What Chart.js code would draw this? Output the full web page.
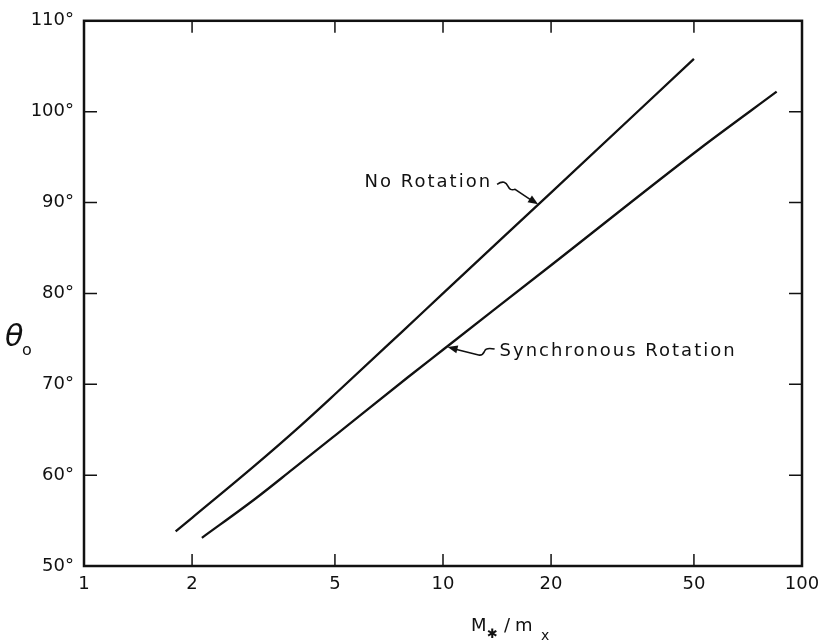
<!DOCTYPE html>
<html>
<head>
<meta charset="utf-8">
<script src="https://cdn.jsdelivr.net/npm/chart.js@4.4.1/dist/chart.umd.min.js"></script>
<style>
  html, body { margin: 0; padding: 0; background: #fff; }
  #wrap { width: 831px; height: 644px; }
</style>
</head>
<body>
<div id="wrap"><canvas id="c" width="831" height="644"></canvas></div>
<script>
// ---- data ----
const xTickValues = [1, 2, 5, 10, 20, 50, 100];
const yTickValues = [50, 60, 70, 80, 90, 100, 110];

const noRotationX = [1.8, 2, 3, 4, 5, 7.7, 10, 20, 50];
const noRotationY = [53.8, 55.3, 61.1, 65.4, 68.9, 75.8, 80.0, 91.1, 105.8];

const syncRotationX = [2.13, 3, 3.8, 5, 8, 10, 20, 52, 85];
const syncRotationY = [53.1, 57.4, 60.6, 64.35, 70.8, 73.8, 83.1, 95.95, 102.2];

const seriesLabels = ["No Rotation", "Synchronous Rotation"];
const arrowTipX = [18.4, 10.3];
const arrowTipY = [89.8, 74.1];

const xTitle = ["M", "\u2731", "/", "m", "x"];
const yTitle = ["\u03B8", "o"];

const toPoints = (xs, ys) => xs.map((x, i) => ({ x: x, y: ys[i] }));

const FONT = "'DejaVu Sans', sans-serif";
const INK = "#111";

const framePlugin = {
  id: "frame",
  afterDraw(chart) {
    const { ctx, chartArea: a, scales: { x, y } } = chart;
    ctx.save();
    ctx.strokeStyle = INK;
    ctx.lineWidth = 2.5;
    ctx.strokeRect(a.left, a.top, a.right - a.left, a.bottom - a.top);
    ctx.lineWidth = 1.5;
    ctx.beginPath();
    // inner ticks
    yTickValues.slice(1, -1).forEach(v => {
      const py = y.getPixelForValue(v);
      ctx.moveTo(a.left, py); ctx.lineTo(a.left + 13, py);
      ctx.moveTo(a.right, py); ctx.lineTo(a.right - 13, py);
    });
    xTickValues.slice(1, -1).forEach(v => {
      const px = x.getPixelForValue(v);
      ctx.moveTo(px, a.bottom); ctx.lineTo(px, a.bottom - 12);
      ctx.moveTo(px, a.top); ctx.lineTo(px, a.top + 12);
    });
    ctx.stroke();

    // annotations with squiggly arrows
    ctx.fillStyle = INK;
    ctx.font = "18px " + FONT;
    ctx.textBaseline = "alphabetic";
    ctx.lineWidth = 1.6;
    ctx.letterSpacing = "2px";

    // No Rotation
    let tx = x.getPixelForValue(arrowTipX[0]);
    let ty = y.getPixelForValue(arrowTipY[0]);
    ctx.textAlign = "right";
    ctx.fillText(seriesLabels[0], tx - 46, ty - 17);
    ctx.beginPath();
    ctx.moveTo(tx - 41, ty - 20);
    ctx.bezierCurveTo(tx - 35, ty - 24, tx - 32, ty - 22, tx - 30, ty - 18);
    ctx.bezierCurveTo(tx - 28, ty - 14, tx - 26, ty - 14, tx - 23, ty - 15);
    ctx.lineTo(tx - 5, ty - 3);
    ctx.stroke();
    drawHead(ctx, tx, ty, Math.atan2(12, 18));

    // Synchronous Rotation
    tx = x.getPixelForValue(arrowTipX[1]);
    ty = y.getPixelForValue(arrowTipY[1]);
    ctx.textAlign = "left";
    ctx.fillText(seriesLabels[1], tx + 52, ty + 9);
    ctx.beginPath();
    ctx.moveTo(tx + 5, ty + 1.5);
    ctx.lineTo(tx + 31, ty + 8);
    ctx.bezierCurveTo(tx + 35, ty + 9, tx + 36, ty + 6, tx + 37, ty + 4);
    ctx.bezierCurveTo(tx + 38, ty + 1, tx + 42, ty + 1, tx + 47, ty + 2);
    ctx.stroke();
    drawHead(ctx, tx, ty, Math.atan2(-6.5, -26));

    // axis titles
    ctx.letterSpacing = "0px";
    ctx.textAlign = "left";
    ctx.font = "italic 30px " + FONT;
    ctx.fillText(yTitle[0], 5, 346);
    ctx.font = "16px " + FONT;
    ctx.fillText(yTitle[1], 22, 355);

    ctx.font = "18px " + FONT;
    let cx = 471;
    ctx.fillText(xTitle[0], cx, 631); cx += 16;
    ctx.font = "bold 13px " + FONT;
    ctx.fillText(xTitle[1], cx, 638); cx += 17;
    ctx.font = "18px " + FONT;
    ctx.fillText(xTitle[2], cx, 631); cx += 11;
    ctx.fillText(xTitle[3], cx, 631); cx += 26;
    ctx.font = "14px " + FONT;
    ctx.fillText(xTitle[4], cx, 640);
    ctx.restore();
  }
};

function drawHead(ctx, tx, ty, ang) {
  const L = 10, W = 4;
  const bx = tx - L * Math.cos(ang), by = ty - L * Math.sin(ang);
  const nx = -Math.sin(ang), ny = Math.cos(ang);
  ctx.beginPath();
  ctx.moveTo(tx, ty);
  ctx.lineTo(bx + nx * W, by + ny * W);
  ctx.lineTo(bx - nx * W, by - ny * W);
  ctx.closePath();
  ctx.fill();
}

new Chart(document.getElementById("c"), {
  type: "line",
  data: {
    datasets: [
      { label: seriesLabels[0], data: toPoints(noRotationX, noRotationY),
        borderColor: INK, borderWidth: 2.3, pointRadius: 0, fill: false,
        cubicInterpolationMode: "monotone" },
      { label: seriesLabels[1], data: toPoints(syncRotationX, syncRotationY),
        borderColor: INK, borderWidth: 2.3, pointRadius: 0, fill: false,
        cubicInterpolationMode: "monotone" }
    ]
  },
  options: {
    responsive: false,
    animation: false,
    layout: { padding: { top: 19, right: 29, left: 0, bottom: 0 } },
    plugins: { legend: { display: false }, tooltip: { enabled: false } },
    scales: {
      x: {
        type: "logarithmic", min: 1, max: 100,
        afterBuildTicks: s => { s.ticks = xTickValues.map(v => ({ value: v })); },
        afterFit: s => { s.height = 78; },
        grid: { display: false, drawTicks: false },
        border: { display: false },
        ticks: { autoSkip: false, maxRotation: 0, padding: 8, color: INK,
                 font: { family: FONT, size: 18 },
                 callback: v => String(v) }
      },
      y: {
        type: "linear", min: 50, max: 110,
        afterBuildTicks: s => { s.ticks = yTickValues.map(v => ({ value: v })); },
        afterFit: s => { s.width = 84; },
        grid: { display: false, drawTicks: false },
        border: { display: false },
        ticks: { padding: 10, color: INK, font: { family: FONT, size: 18 },
                 callback: v => v + "\u00B0" }
      }
    }
  },
  plugins: [framePlugin]
});
</script>
</body>
</html>
